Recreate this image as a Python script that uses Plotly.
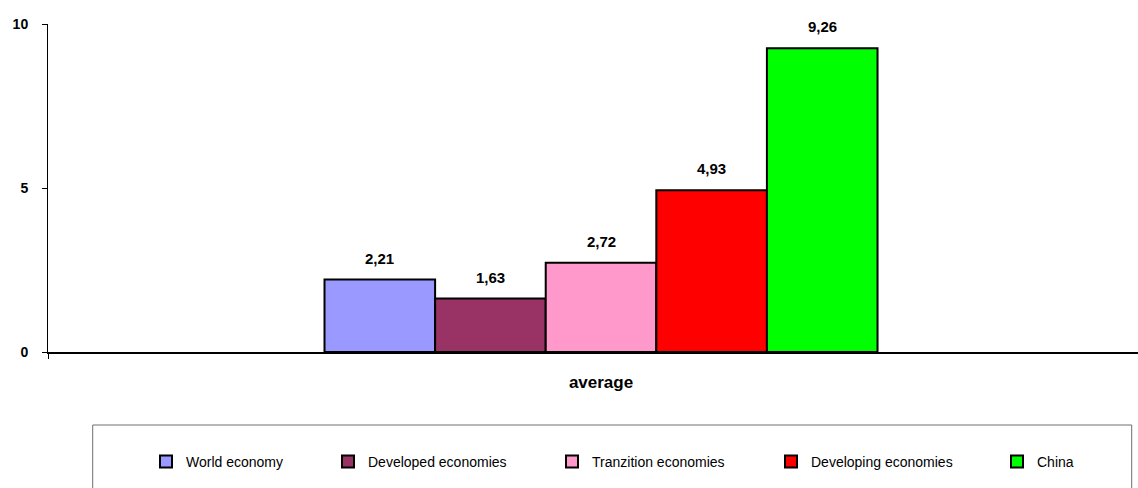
import plotly.graph_objects as go

categories = ["average"]
series_names = ["World economy", "Developed economies", "Tranzition economies",
                "Developing economies", "China"]
series_values = [2.21, 1.63, 2.72, 4.93, 9.26]
series_colors = ["#9999FF", "#993366", "#FF99CC", "#FF0000", "#00FF00"]
y_ticks = [0, 5, 10]

FONT = "Liberation Sans, Arial, sans-serif"
W, H = 1138, 488
ML, MR, MT, MB = 48, 0, 24, 136
PW = W - ML - MR
PH = H - MT - MB
BARGAP = 0.5
XRANGE = [-0.5, 0.4855]
n = len(series_names)

# legend marker left edges in pixels (reference layout)
legend_px = [166, 348, 572, 791, 1017]
legend_y_px = 462

fig = go.Figure()
legend_ids = ["legend"] + [f"legend{i}" for i in range(2, n + 1)]
for i, (name, val, col) in enumerate(zip(series_names, series_values, series_colors)):
    fig.add_trace(go.Bar(
        x=categories, y=[val], name=name,
        marker=dict(color=col, line=dict(color="black", width=2)),
        legend=legend_ids[i],
        hovertemplate="%{y:.2f}<extra>" + name + "</extra>",
    ))

# value labels above the bars
unit_span = XRANGE[1] - XRANGE[0]
for i, val in enumerate(series_values):
    xpos = (i - (n - 1) / 2) * (1 - BARGAP) / n
    fig.add_annotation(
        x=xpos, y=val, xref="x", yref="y",
        text=f"{val:.2f}".replace(".", ","),
        showarrow=False, yanchor="bottom", yshift=11,
        font=dict(family=FONT, size=15, color="black", weight="bold"),
    )

legend_layouts = {}
for i, lid in enumerate(legend_ids):
    legend_layouts[lid] = dict(
        x=(legend_px[i] - 20 - ML) / PW, xanchor="left",
        y=-(legend_y_px - (MT + PH)) / PH, yanchor="middle",
        orientation="h", bgcolor="rgba(0,0,0,0)", borderwidth=0,
        font=dict(family=FONT, size=14, color="black"),
    )

fig.update_layout(
    width=W, height=H,
    margin=dict(l=ML, r=MR, t=MT, b=MB, pad=0),
    paper_bgcolor="white", plot_bgcolor="white",
    barmode="group", bargap=BARGAP, bargroupgap=0,
    separators=",.",
    showlegend=True,
    **legend_layouts,
    xaxis=dict(
        type="category", range=XRANGE,
        showline=True, linecolor="black", linewidth=1.5,
        ticks="outside", tickson="boundaries", ticklen=5, tickcolor="black",
        showgrid=False, zeroline=False,
        tickfont=dict(family=FONT, size=17, color="black", weight="bold"),
        ticklabelstandoff=14,
    ),
    yaxis=dict(
        range=[0, 10], tickvals=y_ticks, ticktext=[str(t) for t in y_ticks],
        showline=True, linecolor="black", linewidth=1,
        ticks="outside", ticklen=5, tickcolor="black",
        showgrid=False, zeroline=False,
        tickfont=dict(family=FONT, size=14, color="black", weight="bold"),
        ticklabelstandoff=11,
    ),
    shapes=[dict(
        type="rect", xref="paper", yref="paper",
        x0=(92.7 - ML) / PW, x1=(1131.7 - ML) / PW,
        y0=-(425 - (MT + PH)) / PH, y1=-(500 - (MT + PH)) / PH,
        line=dict(color="#6e6e6e", width=1), fillcolor="rgba(0,0,0,0)",
        layer="below",
    )],
)

fig.write_html("out.html")
